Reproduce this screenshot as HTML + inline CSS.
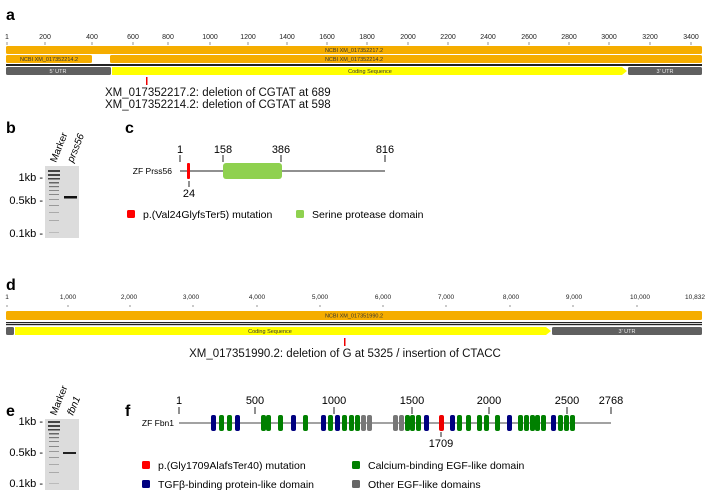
<!DOCTYPE html>
<html><head><meta charset="utf-8"><style>
body{margin:0;background:#fff}
svg{display:block;font-family:"Liberation Sans",sans-serif}
</style></head><body>
<svg width="708" height="492" viewBox="0 0 708 492" xmlns="http://www.w3.org/2000/svg">
<!-- panel a -->
<text x="6" y="20" font-size="16" font-weight="bold">a</text>
<g font-size="7" fill="#222" text-anchor="middle">
<text x="7" y="39">1</text>
<text x="45" y="39">200</text><text x="92" y="39">400</text><text x="133" y="39">600</text>
<text x="168" y="39">800</text><text x="210" y="39">1000</text><text x="248" y="39">1200</text>
<text x="287" y="39">1400</text><text x="327" y="39">1600</text><text x="367" y="39">1800</text>
<text x="408" y="39">2000</text><text x="448" y="39">2200</text><text x="488" y="39">2400</text>
<text x="529" y="39">2600</text><text x="569" y="39">2800</text><text x="609" y="39">3000</text>
<text x="650" y="39">3200</text><text x="691" y="39">3400</text>
</g>
<g stroke="#666" stroke-width="0.7">
<line x1="7" y1="42" x2="7" y2="45"/><line x1="45" y1="42" x2="45" y2="45"/><line x1="92" y1="42" x2="92" y2="45"/><line x1="133" y1="42" x2="133" y2="45"/><line x1="168" y1="42" x2="168" y2="45"/><line x1="210" y1="42" x2="210" y2="45"/><line x1="248" y1="42" x2="248" y2="45"/><line x1="287" y1="42" x2="287" y2="45"/><line x1="327" y1="42" x2="327" y2="45"/><line x1="367" y1="42" x2="367" y2="45"/><line x1="408" y1="42" x2="408" y2="45"/><line x1="448" y1="42" x2="448" y2="45"/><line x1="488" y1="42" x2="488" y2="45"/><line x1="529" y1="42" x2="529" y2="45"/><line x1="569" y1="42" x2="569" y2="45"/><line x1="609" y1="42" x2="609" y2="45"/><line x1="650" y1="42" x2="650" y2="45"/><line x1="691" y1="42" x2="691" y2="45"/>
</g>
<rect x="6" y="46" width="696" height="8" rx="1.5" fill="#f5ad00"/>
<rect x="6" y="55" width="86" height="8" rx="1.5" fill="#f5ad00"/>
<rect x="110" y="55" width="592" height="8" rx="1.5" fill="#f5ad00"/>
<g font-size="5.5" fill="#333" text-anchor="middle">
<text x="354" y="52">NCBI XM_017352217.2</text>
<text x="49" y="61">NCBI XM_017352214.2</text>
<text x="354" y="61">NCBI XM_017352214.2</text>
</g>
<rect x="6" y="64" width="696" height="2" fill="#222"/>
<rect x="6" y="67" width="105" height="8" rx="1.5" fill="#606060"/>
<polygon points="112,67 622,67 627,71 622,75 112,75" fill="#ffff00"/>
<rect x="628" y="67" width="74" height="8" rx="1.5" fill="#606060"/>
<g font-size="5.5" text-anchor="middle">
<text x="58" y="73" fill="#eee">5' UTR</text>
<text x="370" y="73" fill="#333">Coding Sequence</text>
<text x="665" y="73" fill="#eee">3' UTR</text>
</g>
<rect x="146" y="77" width="1.5" height="8" fill="#e00"/>
<text x="105" y="96" font-size="11.5" fill="#111">XM_017352217.2: deletion of CGTAT at 689</text>
<text x="105" y="108" font-size="11.5" fill="#111">XM_017352214.2: deletion of CGTAT at 598</text>

<!-- panel b -->
<text x="6" y="133" font-size="16" font-weight="bold">b</text>
<text transform="translate(56,163) rotate(-68)" font-size="10">Marker</text>
<text transform="translate(73,163) rotate(-68)" font-size="10" font-style="italic">prss56</text>
<rect x="45" y="166" width="34" height="72" fill="#dcdcdc"/>
<g fill="#444">
<rect x="48" y="170" width="12" height="2"/><rect x="48" y="174" width="12" height="2"/><rect x="48" y="178" width="12" height="1.5"/>
<rect x="49" y="182" width="10" height="1.5" fill="#666"/><rect x="49" y="186" width="10" height="1.2" fill="#777"/>
<rect x="49" y="190" width="10" height="1" fill="#888"/><rect x="49" y="194" width="10" height="1" fill="#888"/>
<rect x="49" y="199" width="10" height="1" fill="#999"/><rect x="49" y="205" width="10" height="1" fill="#999"/>
<rect x="49" y="212" width="10" height="1" fill="#aaa"/><rect x="49" y="220" width="10" height="1" fill="#aaa"/>
<rect x="49" y="232" width="10" height="1" fill="#bbb"/>
<rect x="64" y="196" width="13" height="2.5" fill="#111"/>
</g>
<g font-size="11" text-anchor="end">
<text x="43" y="181">1kb -</text><text x="43" y="204">0.5kb -</text><text x="43" y="237">0.1kb -</text>
</g>

<!-- panel c -->
<text x="125" y="133" font-size="16" font-weight="bold">c</text>
<g font-size="11" text-anchor="middle">
<text x="180" y="153">1</text><text x="223" y="153">158</text><text x="281" y="153">386</text><text x="385" y="153">816</text>
<text x="189" y="197">24</text>
</g>
<g stroke="#222" stroke-width="1">
<line x1="180" y1="155" x2="180" y2="162"/><line x1="223" y1="155" x2="223" y2="162"/><line x1="281" y1="155" x2="281" y2="162"/><line x1="385" y1="155" x2="385" y2="162"/>
<line x1="189" y1="181" x2="189" y2="187"/>
<line x1="180" y1="171" x2="385" y2="171"/>
</g>
<text x="172" y="174" font-size="8.5" text-anchor="end">ZF Prss56</text>
<rect x="187" y="163" width="3" height="16" rx="1" fill="#f00"/>
<rect x="223" y="163" width="59" height="16" rx="3" fill="#8fd14f"/>
<rect x="127" y="210" width="8" height="8" rx="1.5" fill="#f00"/>
<text x="143" y="218" font-size="10.5">p.(Val24GlyfsTer5) mutation</text>
<rect x="296" y="210" width="8" height="8" rx="1.5" fill="#8fd14f"/>
<text x="312" y="218" font-size="10.5">Serine protease domain</text>

<!-- panel d -->
<text x="6" y="290" font-size="16" font-weight="bold">d</text>
<g font-size="6.5" fill="#222" text-anchor="middle">
<text x="7" y="299">1</text><text x="68" y="299">1,000</text><text x="129" y="299">2,000</text><text x="191" y="299">3,000</text>
<text x="257" y="299">4,000</text><text x="320" y="299">5,000</text><text x="383" y="299">6,000</text><text x="446" y="299">7,000</text>
<text x="511" y="299">8,000</text><text x="574" y="299">9,000</text><text x="640" y="299">10,000</text><text x="695" y="299">10,832</text>
</g>
<g stroke="#666" stroke-width="0.7">
<line x1="7" y1="305" x2="7" y2="307"/><line x1="68" y1="305" x2="68" y2="307"/><line x1="130" y1="305" x2="130" y2="307"/><line x1="193" y1="305" x2="193" y2="307"/><line x1="257" y1="305" x2="257" y2="307"/><line x1="320" y1="305" x2="320" y2="307"/><line x1="383" y1="305" x2="383" y2="307"/><line x1="446" y1="305" x2="446" y2="307"/><line x1="510" y1="305" x2="510" y2="307"/><line x1="573" y1="305" x2="573" y2="307"/><line x1="637" y1="305" x2="637" y2="307"/>
</g>
<rect x="6" y="311" width="696" height="9" rx="1.5" fill="#f5ad00"/>
<text x="354" y="317.5" font-size="5.5" text-anchor="middle" fill="#333">NCBI XM_017351990.2</text>
<rect x="6" y="322" width="696" height="1.2" fill="#222"/>
<rect x="6" y="324" width="696" height="1.2" fill="#222"/>
<rect x="6" y="327" width="8" height="8" rx="1.5" fill="#606060"/>
<polygon points="15,327 546,327 551,331 546,335 15,335" fill="#ffff00"/>
<rect x="552" y="327" width="150" height="8" rx="1.5" fill="#606060"/>
<text x="270" y="333" font-size="5.5" text-anchor="middle" fill="#333">Coding Sequence</text>
<text x="627" y="333" font-size="5.5" text-anchor="middle" fill="#eee">3' UTR</text>
<rect x="344" y="338" width="1.5" height="8" fill="#e00"/>
<text x="345" y="357" font-size="11.5" text-anchor="middle" fill="#111">XM_017351990.2: deletion of G at 5325 / insertion of CTACC</text>

<!-- panel e -->
<text x="6" y="416" font-size="16" font-weight="bold">e</text>
<text transform="translate(56,416) rotate(-68)" font-size="10">Marker</text>
<text transform="translate(73,416) rotate(-68)" font-size="10" font-style="italic">fbn1</text>
<rect x="45" y="419" width="34" height="71" fill="#dcdcdc"/>
<g fill="#444">
<rect x="48" y="421" width="12" height="2"/><rect x="48" y="425" width="12" height="2"/><rect x="48" y="429" width="12" height="1.5"/>
<rect x="49" y="433" width="10" height="1.5" fill="#666"/><rect x="49" y="437" width="10" height="1.2" fill="#777"/>
<rect x="49" y="441" width="10" height="1" fill="#888"/><rect x="49" y="446" width="10" height="1" fill="#888"/>
<rect x="49" y="451" width="10" height="1" fill="#999"/><rect x="49" y="457" width="10" height="1" fill="#999"/>
<rect x="49" y="464" width="10" height="1" fill="#aaa"/><rect x="49" y="472" width="10" height="1" fill="#aaa"/>
<rect x="49" y="483" width="10" height="1" fill="#bbb"/>
<rect x="63" y="452" width="13" height="2" fill="#222"/>
</g>
<g font-size="11" text-anchor="end">
<text x="43" y="425">1kb -</text><text x="43" y="456">0.5kb -</text><text x="43" y="487">0.1kb -</text>
</g>

<!-- panel f -->
<text x="125" y="416" font-size="16" font-weight="bold">f</text>
<g font-size="11" text-anchor="middle">
<text x="179" y="404">1</text><text x="255" y="404">500</text><text x="334" y="404">1000</text><text x="412" y="404">1500</text>
<text x="489" y="404">2000</text><text x="567" y="404">2500</text><text x="611" y="404">2768</text>
<text x="441" y="447">1709</text>
</g>
<g stroke="#222" stroke-width="1">
<line x1="179" y1="407" x2="179" y2="414"/><line x1="255" y1="407" x2="255" y2="414"/><line x1="334" y1="407" x2="334" y2="414"/><line x1="412" y1="407" x2="412" y2="414"/><line x1="489" y1="407" x2="489" y2="414"/><line x1="567" y1="407" x2="567" y2="414"/><line x1="611" y1="407" x2="611" y2="414"/>
<line x1="441" y1="432" x2="441" y2="437"/>
</g>
<line x1="179" y1="423" x2="611" y2="423" stroke="#444" stroke-width="1"/>
<text x="174" y="426" font-size="8.5" text-anchor="end">ZF Fbn1</text>
<g>
<rect x="211" y="415" width="5" height="16" rx="2" fill="#000080"/>
<rect x="219" y="415" width="5" height="16" rx="2" fill="#008000"/>
<rect x="227" y="415" width="5" height="16" rx="2" fill="#008000"/>
<rect x="235" y="415" width="5" height="16" rx="2" fill="#000080"/>
<rect x="261" y="415" width="5" height="16" rx="2" fill="#008000"/>
<rect x="266" y="415" width="5" height="16" rx="2" fill="#008000"/>
<rect x="278" y="415" width="5" height="16" rx="2" fill="#008000"/>
<rect x="291" y="415" width="5" height="16" rx="2" fill="#000080"/>
<rect x="303" y="415" width="5" height="16" rx="2" fill="#008000"/>
<rect x="321" y="415" width="5" height="16" rx="2" fill="#000080"/>
<rect x="328" y="415" width="5" height="16" rx="2" fill="#008000"/>
<rect x="335" y="415" width="5" height="16" rx="2" fill="#000080"/>
<rect x="342" y="415" width="5" height="16" rx="2" fill="#008000"/>
<rect x="349" y="415" width="5" height="16" rx="2" fill="#008000"/>
<rect x="355" y="415" width="5" height="16" rx="2" fill="#008000"/>
<rect x="361" y="415" width="5" height="16" rx="2" fill="#777"/>
<rect x="367" y="415" width="5" height="16" rx="2" fill="#777"/>
<rect x="393" y="415" width="5" height="16" rx="2" fill="#777"/>
<rect x="399" y="415" width="5" height="16" rx="2" fill="#777"/>
<rect x="405" y="415" width="5" height="16" rx="2" fill="#008000"/>
<rect x="410" y="415" width="5" height="16" rx="2" fill="#008000"/>
<rect x="416" y="415" width="5" height="16" rx="2" fill="#008000"/>
<rect x="424" y="415" width="5" height="16" rx="2" fill="#000080"/>
<rect x="439" y="415" width="5" height="16" rx="2" fill="#e00"/>
<rect x="450" y="415" width="5" height="16" rx="2" fill="#000080"/>
<rect x="457" y="415" width="5" height="16" rx="2" fill="#008000"/>
<rect x="466" y="415" width="5" height="16" rx="2" fill="#008000"/>
<rect x="477" y="415" width="5" height="16" rx="2" fill="#008000"/>
<rect x="484" y="415" width="5" height="16" rx="2" fill="#008000"/>
<rect x="495" y="415" width="5" height="16" rx="2" fill="#008000"/>
<rect x="507" y="415" width="5" height="16" rx="2" fill="#000080"/>
<rect x="518" y="415" width="5" height="16" rx="2" fill="#008000"/>
<rect x="524" y="415" width="5" height="16" rx="2" fill="#008000"/>
<rect x="530" y="415" width="5" height="16" rx="2" fill="#008000"/>
<rect x="535" y="415" width="5" height="16" rx="2" fill="#008000"/>
<rect x="541" y="415" width="5" height="16" rx="2" fill="#008000"/>
<rect x="551" y="415" width="5" height="16" rx="2" fill="#000080"/>
<rect x="558" y="415" width="5" height="16" rx="2" fill="#008000"/>
<rect x="564" y="415" width="5" height="16" rx="2" fill="#008000"/>
<rect x="570" y="415" width="5" height="16" rx="2" fill="#008000"/>
</g>
<rect x="142" y="461" width="8" height="8" rx="1.5" fill="#f00"/>
<text x="158" y="469" font-size="10.5">p.(Gly1709AlafsTer40) mutation</text>
<rect x="352" y="461" width="8" height="8" rx="1.5" fill="#008000"/>
<text x="368" y="469" font-size="10.5">Calcium-binding EGF-like domain</text>
<rect x="142" y="480" width="8" height="8" rx="1.5" fill="#000080"/>
<text x="158" y="488" font-size="10.5">TGFβ-binding protein-like domain</text>
<rect x="352" y="480" width="8" height="8" rx="1.5" fill="#666"/>
<text x="368" y="488" font-size="10.5">Other EGF-like domains</text>
</svg>
</body></html>
